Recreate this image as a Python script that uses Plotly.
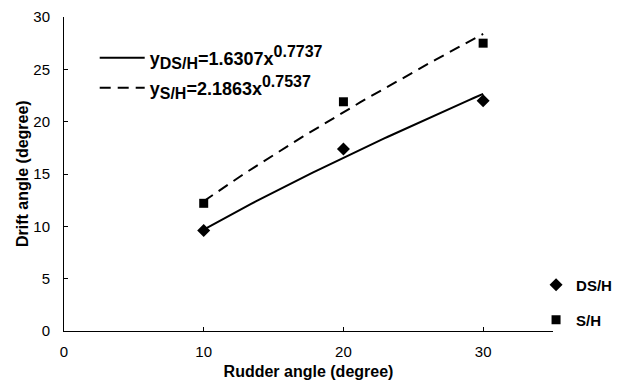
import numpy as np
import plotly.graph_objects as go

# Measured drift angles for each rudder angle
rudder = [10, 20, 30]
drift_ds_h = [9.6, 17.4, 22.0]
drift_s_h = [12.2, 21.9, 27.5]

# Power-law fits y = a * x^b
fit_ds_h = (1.6307, 0.7737)
fit_s_h = (2.1863, 0.7537)

x_fit = np.linspace(10, 30, 60)
font = dict(family="Liberation Sans, Arial, sans-serif", color="black")


def eq_label(sub, a, b):
    # bold equation text with enlarged subscript / superscript
    return (f"<b>y<sub><span style='font-size:16px'>{sub}</span></sub>={a}x"
            f"<sup><span style='font-size:16px'>{b}</span></sup></b>")


fig = go.Figure()

fig.add_trace(go.Scatter(
    x=x_fit, y=fit_ds_h[0] * x_fit ** fit_ds_h[1], mode="lines",
    line=dict(color="black", width=2),
    name=eq_label("DS/H", fit_ds_h[0], fit_ds_h[1]), legend="legend",
    showlegend=True,
))
fig.add_trace(go.Scatter(
    x=x_fit, y=fit_s_h[0] * x_fit ** fit_s_h[1], mode="lines",
    line=dict(color="black", width=2, dash="11px,7px"),
    name=eq_label("S/H", fit_s_h[0], fit_s_h[1]), legend="legend2",
    showlegend=True,
))
fig.add_trace(go.Scatter(
    x=rudder, y=drift_ds_h, mode="markers",
    marker=dict(symbol="diamond", size=10, color="black"),
    name="<b>DS/H</b>", legend="legend3", showlegend=True,
))
fig.add_trace(go.Scatter(
    x=rudder, y=drift_s_h, mode="markers",
    marker=dict(symbol="square", size=9, color="black"),
    name="<b>S/H</b>", legend="legend4", showlegend=True,
))

leg_common = dict(bgcolor="rgba(0,0,0,0)", borderwidth=0, xanchor="left", yanchor="middle",
                  xref="container", yref="container")
eq_font = dict(size=18, **font)
mk_font = dict(size=15, **font)
fig.update_layout(
    width=619, height=380,
    margin=dict(l=64, r=66, t=17, b=49, autoexpand=False),
    paper_bgcolor="white", plot_bgcolor="white",
    showlegend=True,
    font=dict(size=15, **font),
    legend=dict(x=0.153, y=0.847, font=eq_font, itemwidth=45, **leg_common),
    legend2=dict(x=0.153, y=0.768, font=eq_font, itemwidth=45, **leg_common),
    legend3=dict(x=0.866, y=0.25, font=mk_font, itemwidth=30, **leg_common),
    legend4=dict(x=0.866, y=0.158, font=mk_font, itemwidth=30, **leg_common),
    xaxis=dict(
        range=[0, 35], tickvals=[0, 10, 20, 30], ticks="inside", ticklen=4,
        tickcolor="black", showline=True, linecolor="black", linewidth=1,
        showgrid=False, zeroline=False,
        tickfont=dict(size=15, **font), ticklabelstandoff=7,
        title=dict(text="<b>Rudder angle (degree)</b>", font=dict(size=16, **font)),
    ),
    yaxis=dict(
        range=[0, 30], tickvals=[0, 5, 10, 15, 20, 25, 30], ticks="inside", ticklen=4,
        tickcolor="black", showline=True, linecolor="black", linewidth=1,
        showgrid=False, zeroline=False,
        tickfont=dict(size=15, **font), ticklabelstandoff=10,
    ),
    annotations=[dict(
        text="<b>Drift angle (degree)</b>", textangle=-90, showarrow=False,
        xref="paper", yref="paper", x=-0.086, y=0.503,
        xanchor="center", yanchor="middle", font=dict(size=16, **font),
    )],
)
fig.update_xaxes(tickprefix="<b>", ticksuffix="</b>")
fig.update_yaxes(tickprefix="<b>", ticksuffix="</b>")

fig.write_html("out.html")
